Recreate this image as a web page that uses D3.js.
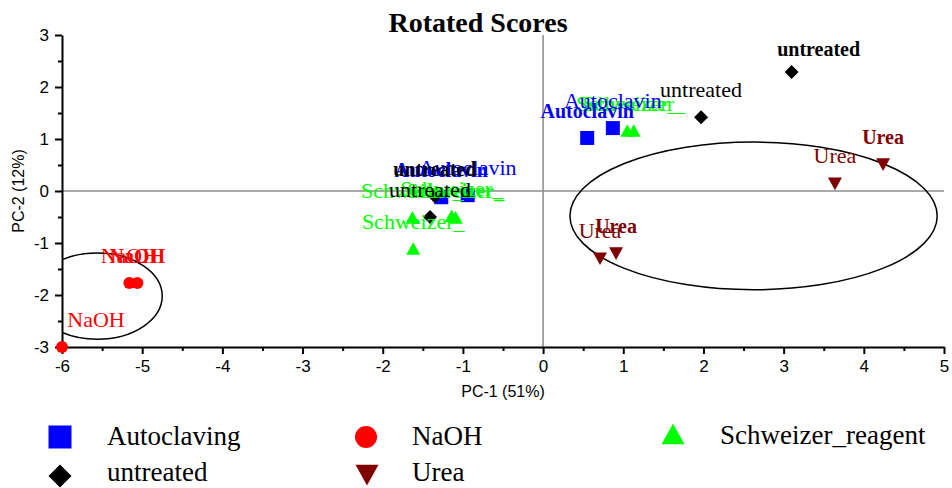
<!DOCTYPE html>
<html>
<head>
<meta charset="utf-8">
<script src="https://cdn.jsdelivr.net/npm/d3@7"></script>
<style>
  body { margin: 0; background: #fff; }
  svg { display: block; }
</style>
</head>
<body>
<svg id="chart"></svg>
<script>
// PCA scores
const autoclavingX = [0.55, 0.87, -1.27, -0.94];
const autoclavingY = [1.02, 1.21, -0.12, -0.08];
const naohX = [-5.16, -5.06, -6.0];
const naohY = [-1.77, -1.77, -3.0];
const schweizerX = [1.05, 1.13, -1.63, -1.09, -1.14, -1.62];
const schweizerY = [1.15, 1.15, -0.52, -0.52, -0.49, -1.12];
const untreatedX = [3.1, 1.97, -1.35, -1.41];
const untreatedY = [2.29, 1.42, -0.1, -0.5];
const ureaX = [4.24, 3.64, 0.91, 0.71];
const ureaY = [0.52, 0.15, -1.19, -1.29];

// confidence ellipses: centre x, centre y, radius x, radius y
const ellipseNaOH = [-5.56, -2.02, 0.81, 0.83];
const ellipseUrea = [2.625, -0.48, 2.29, 1.42];

const xTicks = [-6, -5, -4, -3, -2, -1, 0, 1, 2, 3, 4, 5];
const yTicks = [-3, -2, -1, 0, 1, 2, 3];

const series = [
  { name: "Autoclaving", label: "Autoclavin", xs: autoclavingX, ys: autoclavingY, color: "#0000ff", symbol: "square" },
  { name: "NaOH", label: "NaOH", xs: naohX, ys: naohY, color: "#ff0000", symbol: "circle" },
  { name: "Schweizer_reagent", label: "Schweizer_", xs: schweizerX, ys: schweizerY, color: "#00ff00", symbol: "triUp" },
  { name: "untreated", label: "untreated", xs: untreatedX, ys: untreatedY, color: "#000000", symbol: "diamond" },
  { name: "Urea", label: "Urea", xs: ureaX, ys: ureaY, color: "#800000", symbol: "triDown" },
];

// which point labels are bold, and a few nudged labels (pixels)
const boldLabels = { Autoclaving: [0, 2], NaOH: [1], Schweizer_reagent: [3], untreated: [0, 2], Urea: [0, 2] };
const labelNudge = { "untreated-0": [27, 4], "NaOH-2": [34, 0] };

const width = 952;
const height = 488;
const plot = { left: 62, right: 944, top: 35, bottom: 347 };

const svg = d3.select("#chart").attr("width", width).attr("height", height);

const xScale = d3.scaleLinear().domain([-6, 5]).range([plot.left, plot.right]);
const yScale = d3.scaleLinear().domain([-3, 3]).range([plot.bottom, plot.top]);

const serif = "'Liberation Serif', 'Times New Roman', serif";
const sans = "'Liberation Sans', Arial, sans-serif";

function symbolPath(type, size) {
  const h = size / 2;
  if (type === "square") return `M${-h},${-h}H${h}V${h}H${-h}Z`;
  if (type === "diamond") return `M0,${-h}L${h},0L0,${h}L${-h},0Z`;
  if (type === "triUp") return `M0,${-h}L${h},${h * 0.8}L${-h},${h * 0.8}Z`;
  if (type === "triDown") return `M0,${h}L${h},${-h * 0.8}L${-h},${-h * 0.8}Z`;
  return null;
}

function drawSymbol(g, type, size, color) {
  if (type === "circle") {
    g.append("circle").attr("r", size / 2).attr("fill", color);
  } else {
    g.append("path").attr("d", symbolPath(type, size)).attr("fill", color);
  }
}

svg.append("clipPath").attr("id", "plotClip")
  .append("rect")
  .attr("x", plot.left).attr("y", plot.top)
  .attr("width", plot.right - plot.left).attr("height", plot.bottom - plot.top);

// title
svg.append("text")
  .attr("x", 478).attr("y", 32)
  .attr("text-anchor", "middle")
  .style("font-family", serif).style("font-weight", "bold").style("font-size", "28px")
  .text("Rotated Scores");

// zero lines
svg.append("line")
  .attr("x1", plot.left).attr("x2", plot.right)
  .attr("y1", yScale(0)).attr("y2", yScale(0))
  .attr("stroke", "#8c8c8c").attr("stroke-width", 1.5);
svg.append("line")
  .attr("x1", xScale(0)).attr("x2", xScale(0))
  .attr("y1", plot.top).attr("y2", plot.bottom)
  .attr("stroke", "#8c8c8c").attr("stroke-width", 1.5);

// axes
const xMinor = d3.range(-5.5, 5, 1);
const yMinor = d3.range(-2.5, 3, 1);
const plainNum = (d) => String(d);

svg.append("g")
  .attr("transform", `translate(0,${plot.bottom})`)
  .call(d3.axisBottom(xScale).tickValues(xTicks).tickSize(7).tickSizeOuter(0).tickPadding(6).tickFormat(plainNum));
svg.append("g")
  .attr("transform", `translate(0,${plot.bottom})`)
  .call(d3.axisBottom(xScale).tickValues(xMinor).tickSize(4).tickSizeOuter(0).tickFormat(""))
  .select(".domain").remove();

svg.append("g")
  .attr("transform", `translate(${plot.left},0)`)
  .call(d3.axisLeft(yScale).tickValues(yTicks).tickSize(7).tickSizeOuter(0).tickPadding(6).tickFormat(plainNum));
svg.append("g")
  .attr("transform", `translate(${plot.left},0)`)
  .call(d3.axisLeft(yScale).tickValues(yMinor).tickSize(4).tickSizeOuter(0).tickFormat(""))
  .select(".domain").remove();

svg.selectAll(".domain, .tick line").attr("stroke", "#000").attr("stroke-width", 2);
svg.selectAll(".tick text")
  .style("font-family", sans).style("font-size", "17px").attr("fill", "#000");

svg.append("text")
  .attr("x", 503).attr("y", 397)
  .attr("text-anchor", "middle")
  .style("font-family", sans).style("font-size", "16px")
  .text("PC-1 (51%)");
svg.append("text")
  .attr("transform", `translate(24,${yScale(0)}) rotate(-90)`)
  .attr("text-anchor", "middle")
  .style("font-family", sans).style("font-size", "16px")
  .text("PC-2 (12%)");

// ellipses
const ellG = svg.append("g").attr("clip-path", "url(#plotClip)");
[ellipseNaOH, ellipseUrea].forEach((e) => {
  ellG.append("ellipse")
    .attr("cx", xScale(e[0])).attr("cy", yScale(e[1]))
    .attr("rx", xScale(e[2]) - xScale(0)).attr("ry", yScale(0) - yScale(e[3]))
    .attr("fill", "none").attr("stroke", "#000").attr("stroke-width", 1.5);
});

// points
series.forEach((s) => {
  s.xs.forEach((x, i) => {
    const g = svg.append("g").attr("transform", `translate(${xScale(x)},${yScale(s.ys[i])})`);
    drawSymbol(g, s.symbol, s.symbol === "circle" ? 12 : 14, s.color);
  });
});

// point labels
const labelOrder = ["Schweizer_reagent", "Autoclaving", "untreated", "NaOH", "Urea"];
labelOrder.forEach((name) => {
  const s = series.find((d) => d.name === name);
  s.xs.forEach((x, i) => {
    const bold = (boldLabels[name] || []).includes(i);
    const nudge = labelNudge[name + "-" + i] || [0, 0];
    svg.append("text")
      .attr("x", xScale(x) + nudge[0])
      .attr("y", yScale(s.ys[i]) - 20 + nudge[1])
      .attr("text-anchor", "middle")
      .attr("fill", s.color)
      .style("font-family", serif)
      .style("font-size", bold ? "20px" : "22px")
      .style("font-weight", bold ? "bold" : "normal")
      .text(s.label);
  });
});

// legend
const legendSpots = [
  { name: "Autoclaving", x: 60, y: 437, tx: 107, ty: 445 },
  { name: "NaOH", x: 366, y: 437, tx: 412, ty: 445 },
  { name: "Schweizer_reagent", x: 673, y: 435, tx: 720, ty: 444 },
  { name: "untreated", x: 60, y: 476, tx: 107, ty: 481 },
  { name: "Urea", x: 367, y: 474, tx: 412, ty: 481 },
];
legendSpots.forEach((l) => {
  const s = series.find((d) => d.name === l.name);
  const g = svg.append("g").attr("transform", `translate(${l.x},${l.y})`);
  drawSymbol(g, s.symbol, s.symbol === "circle" ? 22 : 23, s.color);
  svg.append("text")
    .attr("x", l.tx).attr("y", l.ty)
    .style("font-family", serif).style("font-size", "27px")
    .text(s.name);
});
</script>
</body>
</html>
